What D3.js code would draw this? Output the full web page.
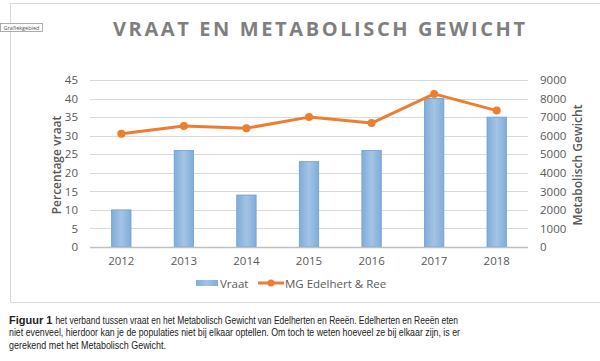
<!DOCTYPE html>
<html>
<head>
<meta charset="utf-8">
<script src="https://cdn.jsdelivr.net/npm/d3@7"></script>
<style>
  body { margin: 0; background: #fff; }
  svg { display: block; }
</style>
</head>
<body>
<div id="chart"></div>
<script>
const years = ["2012", "2013", "2014", "2015", "2016", "2017", "2018"];
const vraat = [10, 26, 14, 23, 26, 40, 35];
const mgEdelhertRee = [6100, 6520, 6400, 7000, 6680, 8250, 7350];
const leftTicks = [0, 5, 10, 15, 20, 25, 30, 35, 40, 45];
const rightTicks = [0, 1000, 2000, 3000, 4000, 5000, 6000, 7000, 8000, 9000];
const captionBold = "Figuur 1";
const captionLines = [
    "het verband tussen vraat en het Metabolisch Gewicht van Edelherten en Reeën. Edelherten en Reeën eten",
    "niet evenveel, hierdoor kan je de populaties niet bij elkaar optellen. Om toch te weten hoeveel ze bij elkaar zijn, is er",
    "gerekend met het Metabolisch Gewicht."
];

const width = 600, height = 361;
const plot = { left: 90, right: 528, top: 80, bottom: 247 };
const font = "'Open Sans', sans-serif";

const svg = d3.select("#chart")
    .append("svg")
    .attr("width", width)
    .attr("height", height);

const defs = svg.append("defs");
const grad = defs.append("linearGradient")
    .attr("id", "barGrad")
    .attr("x1", "0%").attr("x2", "100%").attr("y1", "0%").attr("y2", "0%");
grad.append("stop").attr("offset", "0%").attr("stop-color", "#7fadd9");
grad.append("stop").attr("offset", "50%").attr("stop-color", "#a3c4e4");
grad.append("stop").attr("offset", "100%").attr("stop-color", "#7fadd9");

// chart area border
svg.append("path")
    .attr("d", "M601,3.5 H10.5 V302.5 H601")
    .attr("fill", "none")
    .attr("stroke", "#d9d9d9")
    .attr("stroke-width", 1);

// "Grafiekgebied" tooltip
svg.append("rect")
    .attr("x", 0.5).attr("y", 23.5).attr("width", 42).attr("height", 8)
    .attr("fill", "#fff").attr("stroke", "#9a9a9a").attr("stroke-width", 0.8);
svg.append("text")
    .attr("x", 21.5).attr("y", 29.8)
    .attr("text-anchor", "middle")
    .attr("font-family", font).attr("font-size", 5.5)
    .attr("fill", "#555")
    .text("Grafiekgebied");

// title
svg.append("text")
    .attr("x", 113).attr("y", 36)
    .attr("font-family", font).attr("font-weight", "bold")
    .attr("font-size", 20)
    .attr("textLength", 412).attr("lengthAdjust", "spacing")
    .attr("fill", "#7f7f7f")
    .text("VRAAT EN METABOLISCH GEWICHT");

const x = d3.scaleBand().domain(years).range([plot.left, plot.right]).paddingInner(0.69).paddingOuter(0.345);
const xc = d => x(d) + x.bandwidth() / 2;
const yL = d3.scaleLinear().domain([0, 45]).range([plot.bottom, plot.top]);
const yR = d3.scaleLinear().domain([0, 9000]).range([plot.bottom, plot.top]);

// gridlines
svg.append("g")
    .selectAll("line")
    .data(leftTicks.filter(t => t > 0))
    .enter()
    .append("line")
    .attr("x1", plot.left).attr("x2", plot.right)
    .attr("y1", d => Math.round(yL(d)) + 0.5).attr("y2", d => Math.round(yL(d)) + 0.5)
    .attr("stroke", "#d9d9d9").attr("stroke-width", 1);

// left axis
const leftAxis = svg.append("g")
    .attr("transform", `translate(${plot.left},0)`)
    .call(d3.axisLeft(yL).tickValues(leftTicks).tickSize(0).tickPadding(12));
leftAxis.select(".domain").remove();
leftAxis.selectAll("text")
    .attr("font-family", font).attr("font-size", 11.5).attr("fill", "#595959");

// right axis
const rightAxis = svg.append("g")
    .attr("transform", `translate(${plot.right},0)`)
    .call(d3.axisRight(yR).tickValues(rightTicks).tickFormat(d3.format("d")).tickSize(0).tickPadding(12));
rightAxis.select(".domain").remove();
rightAxis.selectAll("text")
    .attr("font-family", font).attr("font-size", 11.5).attr("fill", "#595959");

// bars
svg.append("g")
    .selectAll("rect")
    .data(years)
    .enter()
    .append("rect")
    .attr("x", d => x(d))
    .attr("y", (d, i) => yL(vraat[i]))
    .attr("width", x.bandwidth())
    .attr("height", (d, i) => plot.bottom - yL(vraat[i]))
    .attr("fill", "url(#barGrad)")
    .attr("stroke", "#6f9fd0").attr("stroke-width", 0.8);

// baseline
svg.append("line")
    .attr("x1", plot.left).attr("x2", plot.right)
    .attr("y1", plot.bottom + 0.5).attr("y2", plot.bottom + 0.5)
    .attr("stroke", "#bfbfbf").attr("stroke-width", 1.5);

// x axis labels
const bottomAxis = svg.append("g")
    .attr("transform", `translate(0,${plot.bottom})`)
    .call(d3.axisBottom(x).tickSize(0).tickPadding(10));
bottomAxis.select(".domain").remove();
bottomAxis.selectAll("text")
    .attr("font-family", font).attr("font-size", 11.5).attr("fill", "#595959");

// line series
const line = d3.line()
    .x(d => xc(d[0]))
    .y(d => yR(d[1]));
const linePts = years.map((y, i) => [y, mgEdelhertRee[i]]);
svg.append("path")
    .datum(linePts)
    .attr("d", line)
    .attr("fill", "none")
    .attr("stroke", "#ed7d31")
    .attr("stroke-width", 3)
    .attr("stroke-linejoin", "round");
svg.append("g")
    .selectAll("circle")
    .data(linePts)
    .enter()
    .append("circle")
    .attr("cx", d => xc(d[0]))
    .attr("cy", d => yR(d[1]))
    .attr("r", 4)
    .attr("fill", "#ed7d31");

// axis titles
svg.append("text")
    .attr("transform", "translate(61,165) rotate(-90)")
    .attr("text-anchor", "middle")
    .attr("font-family", font).attr("font-weight", "600").attr("font-size", 12)
    .attr("fill", "#595959")
    .text("Percentage vraat");
svg.append("text")
    .attr("transform", "translate(582,165) rotate(-90)")
    .attr("text-anchor", "middle")
    .attr("font-family", font).attr("font-weight", "600").attr("font-size", 12)
    .attr("fill", "#595959")
    .text("Metabolisch Gewicht");

// legend
const legend = svg.append("g").attr("font-family", font).attr("font-size", 11.5).attr("fill", "#595959");
legend.append("rect")
    .attr("x", 196).attr("y", 280).attr("width", 22).attr("height", 6)
    .attr("fill", "url(#barGrad)");
legend.append("text").attr("x", 220).attr("y", 287.5).text("Vraat");
legend.append("line")
    .attr("x1", 258).attr("x2", 284).attr("y1", 283).attr("y2", 283)
    .attr("stroke", "#ed7d31").attr("stroke-width", 3);
legend.append("circle").attr("cx", 271).attr("cy", 283).attr("r", 3.5).attr("fill", "#ed7d31");
legend.append("text").attr("x", 285).attr("y", 287.5).text("MG Edelhert & Ree");

// caption
const caption = svg.append("g")
    .attr("font-family", "'Liberation Sans Narrow', 'Liberation Sans', sans-serif")
    .attr("font-size", 11)
    .attr("fill", "#222");
const boldText = caption.append("text")
    .attr("x", 9).attr("y", 324)
    .attr("font-weight", "bold")
    .text(captionBold);
const boldEnd = 9 + boldText.node().getComputedTextLength();
const capStarts = [boldEnd + 3, 9, 9];
const capEnds = [458, 460, 166];
captionLines.forEach((ln, i) => {
    caption.append("text")
        .attr("x", capStarts[i]).attr("y", 324 + i * 12.3)
        .attr("textLength", capEnds[i] - capStarts[i])
        .attr("lengthAdjust", "spacingAndGlyphs")
        .text(ln);
});
</script>
</body>
</html>
